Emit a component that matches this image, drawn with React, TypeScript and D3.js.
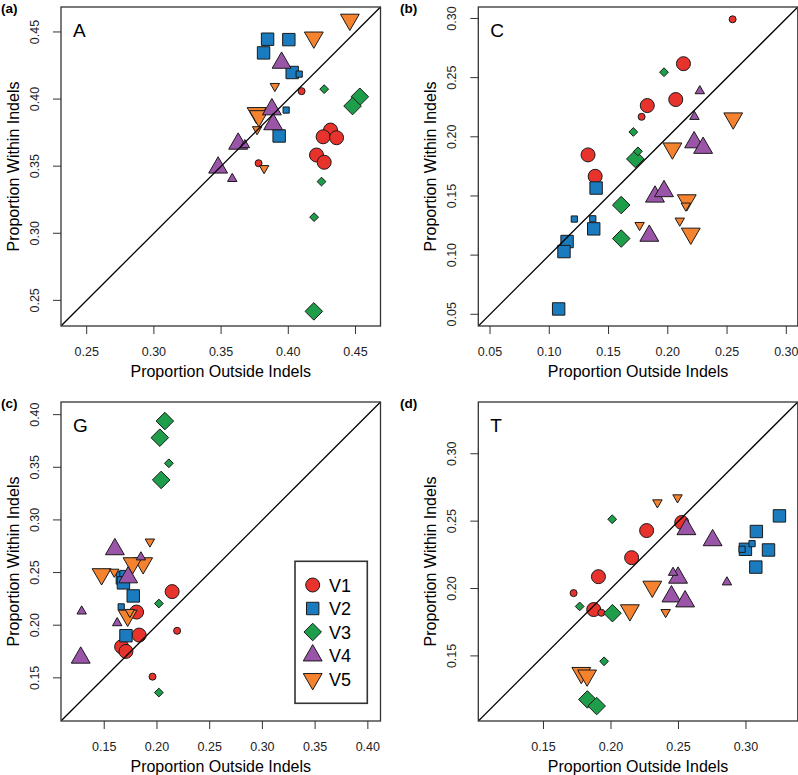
import React from "react";
import * as d3 from "d3";

// ---------- data ----------
const versions = ["V1", "V2", "V3", "V4", "V5"];
const colors = ["#E8322C", "#1A7BBF", "#1E9E4A", "#9A55A8", "#F5822F"];
const shapes = ["circle", "square", "diamond", "up", "down"];

const panelTags = ["(a)", "(b)", "(c)", "(d)"];
const panelLetters = ["A", "C", "G", "T"];
const panelDomains = [
  [0.2309, 0.4686],
  [0.0401, 0.3097],
  [0.109, 0.412],
  [0.1017, 0.3384],
];
const panelTicks = [
  ["0.25", "0.30", "0.35", "0.40", "0.45"],
  ["0.05", "0.10", "0.15", "0.20", "0.25", "0.30"],
  ["0.15", "0.20", "0.25", "0.30", "0.35", "0.40"],
  ["0.15", "0.20", "0.25", "0.30"],
];

// [outside, within, cex]
const aV1 = [[0.4314, 0.3769, 2], [0.4259, 0.3719, 2], [0.4359, 0.3712, 2], [0.421, 0.3583, 2], [0.4267, 0.3529, 2], [0.4099, 0.4059, 1], [0.3779, 0.3522, 1]];
const aV2 = [[0.3846, 0.4446, 2], [0.4004, 0.4443, 2], [0.3816, 0.4344, 2], [0.4029, 0.4198, 2], [0.3932, 0.3725, 2], [0.4081, 0.4186, 1], [0.3984, 0.3918, 1]];
const aV3 = [[0.4532, 0.4017, 2], [0.4478, 0.3948, 2], [0.419, 0.2418, 2], [0.4267, 0.4074, 1], [0.4247, 0.3385, 1], [0.4192, 0.312, 1]];
const aV4 = [[0.395, 0.427, 2], [0.3878, 0.3923, 2], [0.3887, 0.3812, 2], [0.3627, 0.3667, 2], [0.3478, 0.3489, 2], [0.3677, 0.3658, 1], [0.3583, 0.3406, 1]];
const aV5 = [[0.4458, 0.4592, 2], [0.419, 0.4459, 2], [0.3764, 0.3896, 2], [0.3781, 0.3873, 2], [0.39, 0.4096, 1], [0.3768, 0.3774, 1], [0.382, 0.3484, 1]];

const bV1 = [[0.2132, 0.2618, 2], [0.2067, 0.2315, 2], [0.1827, 0.2264, 2], [0.1327, 0.1847, 2], [0.1387, 0.1666, 2], [0.2547, 0.2993, 1], [0.1779, 0.2169, 1]];
const bV2 = [[0.1395, 0.1567, 2], [0.1375, 0.1222, 2], [0.115, 0.1115, 2], [0.1124, 0.103, 2], [0.1079, 0.0545, 2], [0.1211, 0.1305, 1], [0.1367, 0.1307, 1]];
const bV3 = [[0.1726, 0.1813, 2], [0.1607, 0.1423, 2], [0.1607, 0.114, 2], [0.1968, 0.2546, 1], [0.1709, 0.2041, 1], [0.1748, 0.1877, 1]];
const bV4 = [[0.2222, 0.1953, 2], [0.2298, 0.1906, 2], [0.1892, 0.1494, 2], [0.1968, 0.154, 2], [0.1844, 0.1163, 2], [0.227, 0.2387, 1], [0.2225, 0.217, 1]];
const bV5 = [[0.2552, 0.2156, 2], [0.2039, 0.1902, 2], [0.216, 0.1464, 2], [0.2194, 0.1182, 2], [0.2152, 0.1417, 1], [0.1762, 0.1253, 1], [0.2101, 0.129, 1]];

const cV1 = [[0.2144, 0.2319, 2], [0.1807, 0.2125, 2], [0.1831, 0.1906, 2], [0.1665, 0.1795, 2], [0.1706, 0.1751, 2], [0.2191, 0.1947, 1], [0.1958, 0.1511, 1]];
const cV2 = [[0.1775, 0.2278, 2], [0.1706, 0.19, 2], [0.1672, 0.2449, 2], [0.1682, 0.2402, 2], [0.1661, 0.2174, 1], [0.1677, 0.2491, 1]];
const cV3 = [[0.2075, 0.3939, 2], [0.2027, 0.3781, 2], [0.204, 0.338, 2], [0.2113, 0.3538, 1], [0.2018, 0.2206, 1], [0.2018, 0.136, 1]];
const cV4 = [[0.1601, 0.2721, 2], [0.1727, 0.2454, 2], [0.1277, 0.1691, 2], [0.1848, 0.2646, 1], [0.1286, 0.2132, 1], [0.1623, 0.2021, 1]];
const cV5 = [[0.1869, 0.2589, 2], [0.1769, 0.2589, 2], [0.1475, 0.2485, 2], [0.1722, 0.2091, 2], [0.1933, 0.2793, 1], [0.1595, 0.2506, 1], [0.1743, 0.2124, 1]];

const dV1 = [[0.2264, 0.243, 2], [0.2153, 0.2229, 2], [0.1907, 0.2088, 2], [0.2524, 0.249, 2], [0.1872, 0.1844, 2], [0.1723, 0.1966, 1], [0.1929, 0.182, 1]];
const dV2 = [[0.3248, 0.2539, 2], [0.3077, 0.2423, 2], [0.2996, 0.2291, 2], [0.3167, 0.2286, 2], [0.3073, 0.2159, 2], [0.3045, 0.2333, 1], [0.2971, 0.2291, 1]];
const dV3 = [[0.2011, 0.1817, 2], [0.1825, 0.1177, 2], [0.1894, 0.1128, 2], [0.2009, 0.2514, 1], [0.1768, 0.1867, 1], [0.1949, 0.146, 1]];
const dV4 = [[0.2559, 0.244, 2], [0.2753, 0.2358, 2], [0.2497, 0.208, 2], [0.2448, 0.1941, 2], [0.2549, 0.1904, 2], [0.246, 0.2118, 1], [0.2859, 0.2047, 1]];
const dV5 = [[0.2306, 0.2014, 2], [0.214, 0.1839, 2], [0.178, 0.1374, 2], [0.1823, 0.1355, 2], [0.2344, 0.2638, 1], [0.2493, 0.2675, 1], [0.2405, 0.1824, 1]];

const panelSeries = [
  [aV1, aV2, aV3, aV5, aV4],
  [bV1, bV2, bV3, bV5, bV4],
  [cV1, cV2, cV3, cV5, cV4],
  [dV1, dV2, dV3, dV5, dV4],
];
const seriesOrder = [0, 1, 2, 4, 3];

const xTitle = "Proportion Outside Indels";
const yTitle = "Proportion Within Indels";

// ---------- layout ----------
const W = 798;
const H = 775;
const FONT = "'Liberation Sans', Arial, Helvetica, sans-serif";
const boxLeft = [61, 478.3];
const boxTop = [7, 402];
const BOX_W = 319.5;
const BOX_H = 319;
const BASE_R = 3.5;

function symbolPath(shape: string, cx: number, cy: number, R: number): string {
  const p = d3.path();
  if (shape === "circle") {
    p.moveTo(cx + R, cy);
    p.arc(cx, cy, R, 0, Math.PI * 2);
  } else if (shape === "square") {
    const h = R * 0.8862;
    p.rect(cx - h, cy - h, 2 * h, 2 * h);
  } else if (shape === "diamond") {
    const h = R * 1.2533;
    p.moveTo(cx, cy - h);
    p.lineTo(cx + h, cy);
    p.lineTo(cx, cy + h);
    p.lineTo(cx - h, cy);
    p.closePath();
  } else {
    const r = R * 1.5551;
    const s = shape === "up" ? 1 : -1;
    const xc = r * 0.866;
    p.moveTo(cx, cy - s * r);
    p.lineTo(cx + xc, cy + (s * r) / 2);
    p.lineTo(cx - xc, cy + (s * r) / 2);
    p.closePath();
  }
  return p.toString();
}

function Panel({ idx }: { idx: number }) {
  const col = idx % 2;
  const row = Math.floor(idx / 2);
  const L = boxLeft[col];
  const T = boxTop[row];
  const dom = panelDomains[idx];
  const x = d3.scaleLinear().domain(dom).range([L, L + BOX_W]);
  const y = d3.scaleLinear().domain(dom).range([T + BOX_H, T]);
  const ticks = panelTicks[idx].map((t) => +t);
  const clipId = `clip${idx}`;
  const tagX = col === 0 ? 1 : 400;
  const tagY = row === 0 ? 13 : 408;
  return (
    <g>
      <defs>
        <clipPath id={clipId}>
          <rect x={L} y={T} width={BOX_W} height={BOX_H} />
        </clipPath>
      </defs>
      <text x={tagX} y={tagY} fontSize={13.5} fontWeight="bold" fontFamily={FONT}>
        {panelTags[idx]}
      </text>
      {/* points */}
      <g clipPath={`url(#${clipId})`}>
        {panelSeries[idx].map((ser, k) => {
          const v = seriesOrder[k];
          return ser.map((d, i) => (
            <path
              key={`${k}-${i}`}
              d={symbolPath(shapes[v], x(d[0]), y(d[1]), BASE_R * d[2])}
              fill={colors[v]}
              stroke="#1a1a1a"
              strokeWidth={1}
            />
          ));
        })}
        <line x1={x(dom[0])} y1={y(dom[0])} x2={x(dom[1])} y2={y(dom[1])} stroke="#000" strokeWidth={1.3} />
      </g>
      <rect x={L} y={T} width={BOX_W} height={BOX_H} fill="none" stroke="#333" strokeWidth={1.3} />
      {/* x axis */}
      {ticks.map((t, i) => (
        <g key={`xt${i}`}>
          <line x1={x(t)} x2={x(t)} y1={T + BOX_H} y2={T + BOX_H + 8} stroke="#333" strokeWidth={1} />
          <text x={x(t)} y={T + BOX_H + 30} textAnchor="middle" fontSize={12.5} fontFamily={FONT} fill="#222">
            {panelTicks[idx][i]}
          </text>
        </g>
      ))}
      <text x={L + BOX_W / 2} y={T + BOX_H + 51} textAnchor="middle" fontSize={16} fontFamily={FONT}>
        {xTitle}
      </text>
      {/* y axis */}
      {ticks.map((t, i) => (
        <g key={`yt${i}`}>
          <line x1={L - 8} x2={L} y1={y(t)} y2={y(t)} stroke="#333" strokeWidth={1} />
          <text
            transform={`translate(${L - 22},${y(t)}) rotate(-90)`}
            textAnchor="middle"
            fontSize={12.5}
            fontFamily={FONT}
            fill="#222"
          >
            {panelTicks[idx][i]}
          </text>
        </g>
      ))}
      <text
        transform={`translate(${L - 42},${T + BOX_H / 2}) rotate(-90)`}
        textAnchor="middle"
        fontSize={16}
        fontFamily={FONT}
      >
        {yTitle}
      </text>
      <text x={L + 12} y={T + 30} fontSize={19} fontFamily={FONT}>
        {panelLetters[idx]}
      </text>
    </g>
  );
}

function Legend() {
  const lx = 295;
  const ly = 561.3;
  const lw = 72.3;
  const lh = 142;
  return (
    <g>
      <rect x={lx} y={ly} width={lw} height={lh} fill="#fff" stroke="#333" strokeWidth={1.6} />
      {versions.map((v, i) => {
        const cy = ly + 23.7 + i * 23.5;
        return (
          <g key={v}>
            <path d={symbolPath(shapes[i], lx + 17.7, cy, BASE_R * 2)} fill={colors[i]} stroke="#1a1a1a" strokeWidth={1} />
            <text x={lx + 34} y={cy + 6.5} fontSize={18} fontFamily={FONT}>
              {v}
            </text>
          </g>
        );
      })}
    </g>
  );
}

export default function App() {
  return (
    <svg width={W} height={H} style={{ display: "block", position: "absolute", left: 0, top: 0, background: "#fff" }}>
      <rect x={0} y={0} width={W} height={H} fill="#fff" />
      {[0, 1, 2, 3].map((i) => (
        <Panel key={i} idx={i} />
      ))}
      <Legend />
    </svg>
  );
}
